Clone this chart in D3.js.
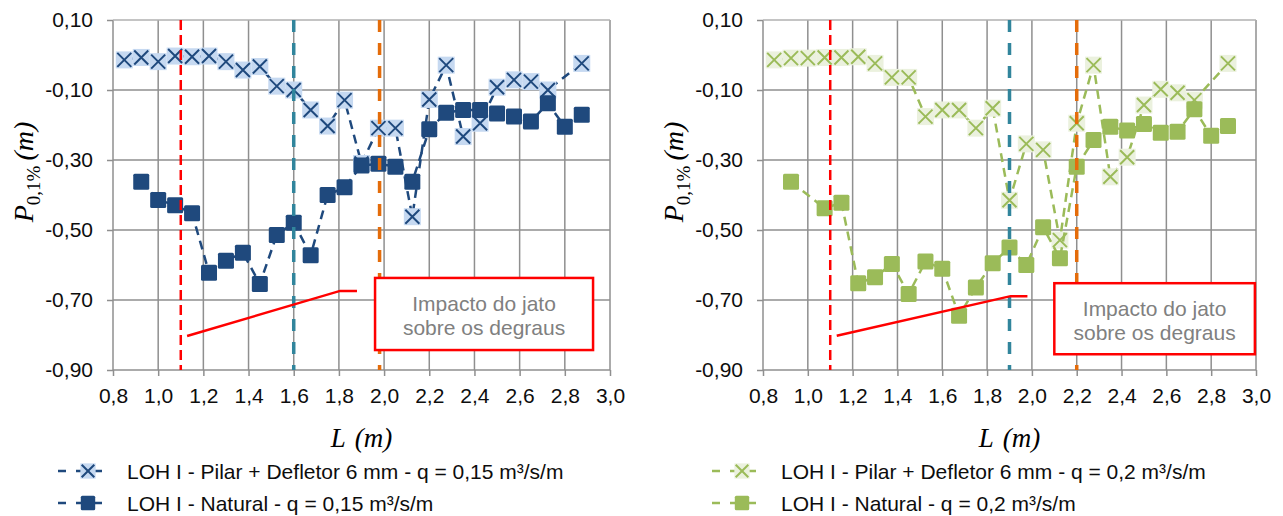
<!DOCTYPE html>
<meta charset="utf-8">
<script src="https://d3js.org/d3.v7.min.js"></script>
<style>
    body { margin: 0; background: #fff; }
    text { font-family: 'Liberation Sans', Arial, sans-serif; }
    .tick text { font-size: 21px; fill: #0d0d0d; }
    .legend text { font-size: 21px; fill: #0d0d0d; }
    .note text { font-size: 21px; fill: #808080; text-anchor: middle; }
    .math { font-family: 'Liberation Serif', 'Times New Roman', serif; }
</style>
<div id="chart"></div>
<script>
    // L (m) positions of the measurement points
    const L = [0.85, 0.925, 1.0, 1.075, 1.15, 1.225, 1.3, 1.375, 1.45, 1.525, 1.6, 1.675, 1.75, 1.825,
        1.9, 1.975, 2.05, 2.125, 2.2, 2.275, 2.35, 2.425, 2.5, 2.575, 2.65, 2.725, 2.8, 2.875];

    // P 0,1% (m), q = 0,15 m3/s/m
    const pilar015 = [-0.014, -0.007, -0.019, -0.003, -0.005, -0.003, -0.019, -0.043, -0.033, -0.089, -0.100, -0.157,
        -0.203, -0.129, -0.310, -0.209, -0.209, -0.462, -0.127, -0.029, -0.233, -0.195, -0.092, -0.071, -0.076,
        -0.100, null, -0.024];
    const natural015 = [null, -0.362, -0.414, -0.429, -0.452, -0.622, -0.588, -0.565, -0.654, -0.514, -0.479, -0.572,
        -0.400, -0.378, -0.316, -0.311, -0.319, -0.362, -0.212, -0.165, -0.157, -0.157, -0.167, -0.176, -0.190,
        -0.138, -0.205, -0.171];

    // P 0,1% (m), q = 0,2 m3/s/m
    const pilar02 = [-0.014, -0.009, -0.009, -0.007, -0.007, -0.005, -0.024, -0.064, -0.064, -0.176, -0.157, -0.157,
        -0.209, -0.152, -0.415, -0.254, -0.271, -0.529, -0.195, -0.029, -0.348, -0.292, -0.143, -0.098, -0.108,
        -0.129, null, -0.024];
    const natural02 = [null, -0.362, null, -0.438, -0.422, -0.652, -0.635, -0.597, -0.683, -0.590, -0.611, -0.745,
        -0.664, -0.595, -0.550, -0.600, -0.492, -0.581, -0.319, -0.243, -0.205, -0.216, -0.197, -0.222, -0.219,
        -0.155, -0.231, -0.203];

    const xTicks = [0.8, 1.0, 1.2, 1.4, 1.6, 1.8, 2.0, 2.2, 2.4, 2.6, 2.8, 3.0];
    const yTicks = [0.10, -0.10, -0.30, -0.50, -0.70, -0.90];

    // vertical reference lines (L in m)
    const refLines015 = [1.1, 1.6, 1.98];
    const refLines02 = [1.1, 1.9, 2.2];

    // annotation pointer and box, in data units
    const pointer015 = [[1.128, -0.803], [1.805, -0.674], [1.88, -0.674]];
    const pointer02 = [[1.129, -0.802], [1.905, -0.689], [1.98, -0.689]];
    const box015 = [1.96, 2.925, -0.637, -0.843];
    const box02 = [2.10, 2.995, -0.652, -0.855];
    const noteLines = ["Impacto do jato", "sobre os degraus"];

    const labels015 = ["LOH I - Pilar + Defletor 6 mm - q = 0,15 m³/s/m", "LOH I - Natural - q = 0,15 m³/s/m"];
    const labels02 = ["LOH I - Pilar + Defletor 6 mm - q = 0,2 m³/s/m", "LOH I - Natural - q = 0,2 m³/s/m"];

    const refColors = ["#ff0000", "#31859c", "#e46c0a"];

    const svg = d3.select("#chart").append("svg")
        .attr("width", 1283)
        .attr("height", 516);

    const comma = f => v => d3.format(f)(v).replace("−", "-").replace(".", ",");

    function panel(cfg) {
        const x = d3.scaleLinear().domain([0.8, 3.0]).range(cfg.xr);
        const y = d3.scaleLinear().domain([-0.9, 0.1]).range([370, 20]);
        const g = svg.append("g");

        // grid
        g.append("g").selectAll("line").data(xTicks).enter().append("line")
            .attr("x1", d => x(d)).attr("x2", d => x(d))
            .attr("y1", y(0.1)).attr("y2", y(-0.9))
            .attr("stroke", "#8f8f8f").attr("stroke-width", 1.5);
        g.append("g").selectAll("line").data(yTicks).enter().append("line")
            .attr("x1", x(0.8)).attr("x2", x(3.0))
            .attr("y1", d => y(d)).attr("y2", d => y(d))
            .attr("stroke", d => d === 0.10 ? "#b0b0b0" : "#8f8f8f").attr("stroke-width", 1.5);

        // axes
        const ax = g.append("g")
            .attr("transform", "translate(0," + y(-0.9) + ")")
            .call(d3.axisBottom(x).tickValues(xTicks).tickFormat(comma(".1f")).tickSize(6).tickPadding(12));
        const ay = g.append("g")
            .attr("transform", "translate(" + x(0.8) + ",0)")
            .call(d3.axisLeft(y).tickValues(yTicks).tickFormat(comma(".2f")).tickSize(6).tickPadding(14));
        [ax, ay].forEach(a => {
            a.select(".domain").remove();
            a.selectAll("line").attr("stroke", "#8f8f8f").attr("stroke-width", 1.5);
            a.attr("font-family", null).attr("font-size", null);
        });

        // axis titles
        const xl = g.append("text").attr("class", "math")
            .attr("x", (cfg.xr[0] + cfg.xr[1]) / 2).attr("y", 447)
            .attr("text-anchor", "middle")
            .attr("font-size", 27).attr("font-style", "italic");
        xl.append("tspan").text("L");
        xl.append("tspan").attr("dx", 9).text("(m)");
        const yl = g.append("text").attr("class", "math")
            .attr("transform", "translate(" + (cfg.xr[0] - 80) + ",172) rotate(-90)")
            .attr("text-anchor", "middle")
            .attr("font-size", 28);
        yl.append("tspan").attr("font-style", "italic").text("P");
        yl.append("tspan").attr("font-size", 19).attr("dy", 7).text("0,1%");
        yl.append("tspan").attr("font-style", "italic").attr("dy", -7).attr("dx", 5).text("(m)");

        // series
        const line = d3.line().x(d => x(d[0])).y(d => y(d[1]));
        cfg.series.forEach(s => {
            const pts = L.map((l, i) => [l, s.values[i]]).filter(p => p[1] !== null);
            g.append("path")
                .attr("d", line(pts))
                .attr("fill", "none")
                .attr("stroke", s.color)
                .attr("stroke-width", 2.5)
                .attr("stroke-dasharray", "9,6");
            const m = g.append("g").selectAll("g").data(pts).enter().append("g")
                .attr("transform", p => "translate(" + x(p[0]) + "," + y(p[1]) + ")");
            drawMarker(m, s);
        });

        // vertical reference lines
        g.append("g").selectAll("line").data(cfg.refs).enter().append("line")
            .attr("x1", d => x(d)).attr("x2", d => x(d))
            .attr("y1", y(0.1)).attr("y2", y(-0.9))
            .attr("stroke", (d, i) => refColors[i])
            .attr("stroke-width", (d, i) => i === 0 ? 2.5 : 3.5)
            .attr("stroke-dasharray", (d, i) => i === 0 ? "10,5" : "12,11");

        // annotation
        g.append("path")
            .attr("d", d3.line().x(d => x(d[0])).y(d => y(d[1]))(cfg.pointer))
            .attr("fill", "none").attr("stroke", "#ff0000").attr("stroke-width", 2.5);
        const b = cfg.box;
        const note = g.append("g").attr("class", "note");
        note.append("rect")
            .attr("x", x(b[0])).attr("y", y(b[2]))
            .attr("width", x(b[1]) - x(b[0])).attr("height", y(b[3]) - y(b[2]))
            .attr("fill", "#fff").attr("stroke", "#ff0000").attr("stroke-width", 2.5);
        note.selectAll("text").data(noteLines).enter().append("text")
            .attr("x", (x(b[0]) + x(b[1])) / 2)
            .attr("y", (d, i) => y(b[2]) + 33 + i * 24)
            .text(d => d);

        // legend
        const lg = svg.append("g").attr("class", "legend");
        cfg.series.forEach((s, i) => {
            const ly = 471 + i * 32;
            const x0 = cfg.legendX;
            lg.append("line")
                .attr("x1", x0).attr("x2", x0 + 50)
                .attr("y1", ly).attr("y2", ly)
                .attr("stroke", s.color).attr("stroke-width", 2.5)
                .attr("stroke-dasharray", "8,10");
            const m = lg.append("g").attr("transform", "translate(" + (x0 + 30) + "," + ly + ")").datum([0, 0]);
            drawMarker(m, s, 0.9);
            lg.append("text")
                .attr("x", x0 + 69).attr("y", ly + 8)
                .text(s.label);
        });
    }

    function drawMarker(sel, s, k) {
        k = k || 1;
        if (s.marker === "x") {
            sel.append("rect")
                .attr("x", -8.5 * k).attr("y", -8.5 * k)
                .attr("width", 17 * k).attr("height", 17 * k)
                .attr("fill", s.light);
            sel.append("path")
                .attr("d", "M" + (-7 * k) + "," + (-7 * k) + "L" + (7 * k) + "," + (7 * k) +
                    "M" + (-7 * k) + "," + (7 * k) + "L" + (7 * k) + "," + (-7 * k))
                .attr("stroke", s.color).attr("stroke-width", 2);
        } else {
            sel.append("rect")
                .attr("x", -8 * k).attr("y", -8 * k)
                .attr("width", 16 * k).attr("height", 16 * k)
                .attr("rx", 1.5)
                .attr("fill", s.color);
        }
    }

    panel({
        xr: [113, 610],
        refs: refLines015,
        pointer: pointer015,
        box: box015,
        legendX: 58,
        series: [
            {values: pilar015, marker: "x", color: "#1f497d", light: "#c6d9f1", label: labels015[0]},
            {values: natural015, marker: "square", color: "#1f497d", label: labels015[1]}
        ]
    });

    panel({
        xr: [763, 1256],
        refs: refLines02,
        pointer: pointer02,
        box: box02,
        legendX: 712,
        series: [
            {values: pilar02, marker: "x", color: "#9bbb59", light: "#ebf1de", label: labels02[0]},
            {values: natural02, marker: "square", color: "#9bbb59", label: labels02[1]}
        ]
    });
</script>
